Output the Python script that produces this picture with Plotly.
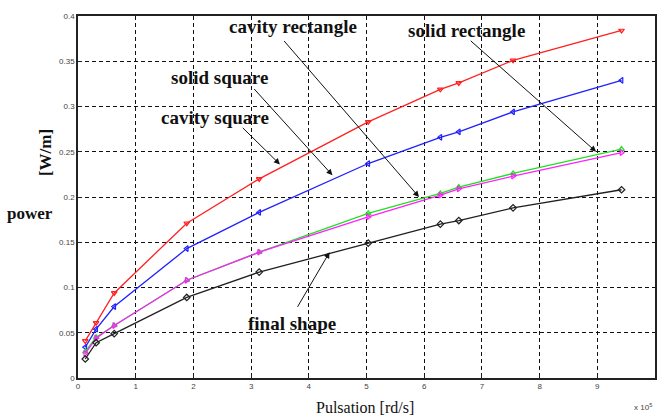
import plotly.graph_objects as go

# Pulsation (x 10^5 rd/s)
pulsation = [0.126, 0.314, 0.628, 1.885, 3.14, 5.03, 6.28, 6.6, 7.54, 9.42]

# power [W/m]
cavity_square = [0.041, 0.061, 0.094, 0.171, 0.220, 0.283, 0.319, 0.326, 0.351, 0.384]
solid_square = [0.034, 0.054, 0.079, 0.143, 0.183, 0.237, 0.266, 0.272, 0.294, 0.329]
solid_rectangle = [0.029, 0.045, 0.058, 0.108, 0.139, 0.182, 0.204, 0.211, 0.226, 0.253]
cavity_rectangle = [0.027, 0.044, 0.058, 0.108, 0.139, 0.178, 0.202, 0.209, 0.223, 0.249]
final_shape = [0.021, 0.039, 0.049, 0.089, 0.117, 0.149, 0.170, 0.174, 0.188, 0.208]

x_ticks = [0, 1, 2, 3, 4, 5, 6, 7, 8, 9, 10]
y_ticks = [0, 0.05, 0.1, 0.15, 0.2, 0.25, 0.3, 0.35, 0.4]
y_tick_text = ["0", "0.05", "0.1", "0.15", "0.2", "0.25", "0.3", "0.35", "0.4"]

series = [
    (cavity_square, "#ff2020", "triangle-down-open"),
    (solid_square, "#2020ff", "triangle-left-open"),
    (solid_rectangle, "#20e020", "triangle-up-open"),
    (cavity_rectangle, "#ff20ff", "triangle-right-open"),
    (final_shape, "#202020", "diamond-open"),
]

fig = go.Figure()
for vals, col, sym in series:
    fig.add_trace(go.Scatter(
        x=pulsation, y=vals, mode="lines+markers",
        line=dict(color=col, width=1.3),
        marker=dict(symbol=sym, size=5, color=col, line=dict(width=1.2, color=col)),
        showlegend=False,
    ))

tfont = dict(family="Liberation Serif", size=19, color="#111111")

labels = [
    # text, text x, text y, arrow tail x, tail y, head x, head y
    ("<b>cavity rectangle</b>", 3.72, 0.388, 3.55, 0.374, 5.91, 0.200),
    ("<b>solid rectangle</b>", 6.74, 0.384, 6.78, 0.374, 8.98, 0.250),
    ("<b>solid square</b>", 2.45, 0.332, 3.03, 0.321, 4.41, 0.224),
    ("<b>cavity square</b>", 2.38, 0.288, 2.83, 0.278, 3.50, 0.236),
    ("<b>final shape</b>", 3.71, 0.060, 3.79, 0.077, 4.36, 0.139),
]
for txt, tx, ty, ax_, ay_, hx, hy in labels:
    fig.add_annotation(x=hx, y=hy, ax=ax_, ay=ay_, xref="x", yref="y",
                       axref="x", ayref="y", text="", showarrow=True,
                       arrowhead=2, arrowsize=1.2, arrowwidth=1, arrowcolor="#111111")
    fig.add_annotation(x=tx, y=ty, xref="x", yref="y", text=txt, showarrow=False,
                       font=tfont, xanchor="center", yanchor="middle")

pfont = dict(family="Liberation Serif", size=17, color="#111111")
fig.add_annotation(x=30, y=213, xref="paper", yref="paper", text="<b>power</b>",
                   showarrow=False, font=pfont, xanchor="center", yanchor="middle")
fig.add_annotation(x=45, y=153, xref="paper", yref="paper", text="<b>[W/m]</b>",
                   showarrow=False, font=pfont, textangle=-90,
                   xanchor="center", yanchor="middle")
fig.add_annotation(x=366, y=408, xref="paper", yref="paper", text="Pulsation [rd/s]",
                   showarrow=False, font=dict(family="Liberation Serif", size=16, color="#111111"),
                   xanchor="center", yanchor="middle")
fig.add_annotation(x=645, y=407, xref="paper", yref="paper", text="x 10<sup>5</sup>",
                   showarrow=False, font=dict(family="Arial", size=8, color="#444444"),
                   xanchor="center", yanchor="middle")

# convert paper-pixel annotations to paper fractions
W, H = 658, 419
L, R, T, B = 78, 1, 16, 41
pw, ph = W - L - R, H - T - B
for a in fig.layout.annotations:
    if a.xref == "paper":
        a.x = (a.x - L) / pw
        a.y = (H - B - a.y) / ph

axis_common = dict(showgrid=True, gridcolor="#111111", gridwidth=1.2, griddash="4px,3px",
                   zeroline=False, showline=True, linecolor="#222222", linewidth=1.5,
                   mirror=True, ticks="inside", ticklen=3, tickcolor="#222222",
                   tickfont=dict(family="Arial", size=8, color="#444444"))

fig.update_xaxes(range=[0, 10], tickvals=x_ticks, **axis_common)
fig.update_yaxes(range=[0, 0.4], tickvals=y_ticks, ticktext=y_tick_text, **axis_common)

fig.update_layout(width=W, height=H, margin=dict(l=L, r=R, t=T, b=B),
                  plot_bgcolor="white", paper_bgcolor="white")

fig.write_html("out.html")
